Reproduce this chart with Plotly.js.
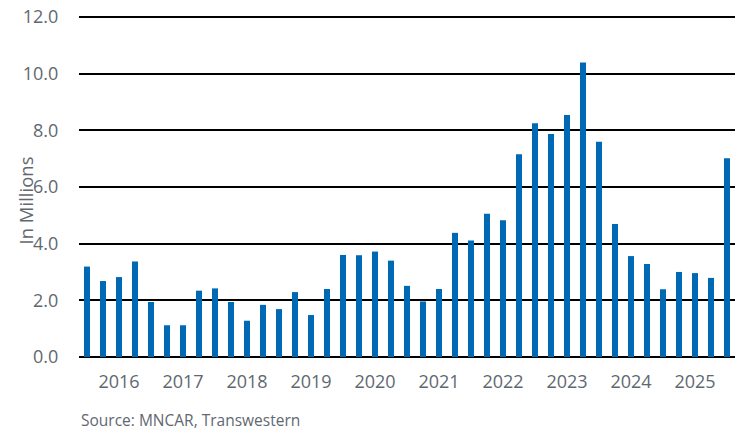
<!DOCTYPE html>
<html>
<head>
<meta charset="utf-8">
<script src="https://cdn.plot.ly/plotly-3.0.1.min.js"></script>
<style>
  html, body { margin: 0; padding: 0; background: #fff; }
  #chart { width: 741px; height: 431px; }
</style>
</head>
<body>
<div id="chart"></div>
<script>
// Quarterly values, 2015 Q3 through 2025 Q3 (in millions)
const quarters = [
  "2015 Q3","2015 Q4",
  "2016 Q1","2016 Q2","2016 Q3","2016 Q4",
  "2017 Q1","2017 Q2","2017 Q3","2017 Q4",
  "2018 Q1","2018 Q2","2018 Q3","2018 Q4",
  "2019 Q1","2019 Q2","2019 Q3","2019 Q4",
  "2020 Q1","2020 Q2","2020 Q3","2020 Q4",
  "2021 Q1","2021 Q2","2021 Q3","2021 Q4",
  "2022 Q1","2022 Q2","2022 Q3","2022 Q4",
  "2023 Q1","2023 Q2","2023 Q3","2023 Q4",
  "2024 Q1","2024 Q2","2024 Q3","2024 Q4",
  "2025 Q1","2025 Q2","2025 Q3"
];
const values = [
  3.19, 2.68,
  2.82, 3.37, 1.94, 1.12,
  1.12, 2.34, 2.42, 1.94,
  1.28, 1.84, 1.69, 2.29,
  1.48, 2.40, 3.60, 3.59,
  3.72, 3.40, 2.51, 1.96,
  2.40, 4.38, 4.11, 5.05,
  4.82, 7.15, 8.25, 7.87,
  8.54, 10.39, 7.59, 4.69,
  3.56, 3.28, 2.39, 3.00,
  2.96, 2.79, 7.01
];
const yearTickVals = ["2016 Q1","2017 Q1","2018 Q1","2019 Q1","2020 Q1","2021 Q1","2022 Q1","2023 Q1","2024 Q1","2025 Q1"];
const yearTickText = ["2016","2017","2018","2019","2020","2021","2022","2023","2024","2025"];
const yTickVals = [0, 2, 4, 6, 8, 10, 12];
const yTickText = ["0.0","2.0","4.0","6.0","8.0","10.0","12.0"];

const textColor = "#5f6870";
const fontFam = "'Open Sans', sans-serif";

const trace = {
  type: "bar",
  x: quarters,
  y: values,
  marker: { color: "#0069b4", line: { width: 0 } },
  hoverinfo: "x+y"
};

const layout = {
  width: 741,
  height: 431,
  margin: { l: 79, r: 6, t: 14, b: 74 },
  paper_bgcolor: "#ffffff",
  plot_bgcolor: "#ffffff",
  showlegend: false,
  bargap: 0.625,
  font: { family: fontFam, color: textColor, size: 18 },
  xaxis: {
    type: "category",
    categoryorder: "array",
    categoryarray: quarters,
    range: [-0.5, quarters.length - 0.5],
    tickmode: "array",
    tickvals: yearTickVals,
    ticktext: yearTickText,
    ticks: "outside",
    ticklen: 8,
    tickcolor: "rgba(0,0,0,0)",
    showgrid: false,
    showline: false,
    zeroline: false,
    tickfont: { family: fontFam, size: 18, color: textColor }
  },
  yaxis: {
    range: [0, 12.1],
    tickmode: "array",
    tickvals: yTickVals,
    ticktext: yTickText,
    ticks: "outside",
    ticklen: 16,
    tickcolor: "rgba(0,0,0,0)",
    showgrid: true,
    gridcolor: "#000000",
    gridwidth: 2,
    zeroline: true,
    zerolinecolor: "#000000",
    zerolinewidth: 2,
    showline: false,
    tickfont: { family: fontFam, size: 18, color: textColor }
  },
  annotations: [
    {
      text: "In Millions",
      xref: "paper", yref: "paper",
      x: -0.0816, y: 0.4577,
      xanchor: "center", yanchor: "middle",
      textangle: -90,
      showarrow: false,
      font: { family: fontFam, size: 18.5, color: textColor }
    },
    {
      text: "Source: MNCAR, Transwestern",
      xref: "paper", yref: "paper",
      x: 0.002, y: -0.1837,
      xanchor: "left", yanchor: "middle",
      borderpad: 0,
      showarrow: false,
      font: { family: fontFam, size: 15.5, color: textColor }
    }
  ]
};

Plotly.newPlot("chart", [trace], layout, { staticPlot: true, displayModeBar: false });
</script>
</body>
</html>
